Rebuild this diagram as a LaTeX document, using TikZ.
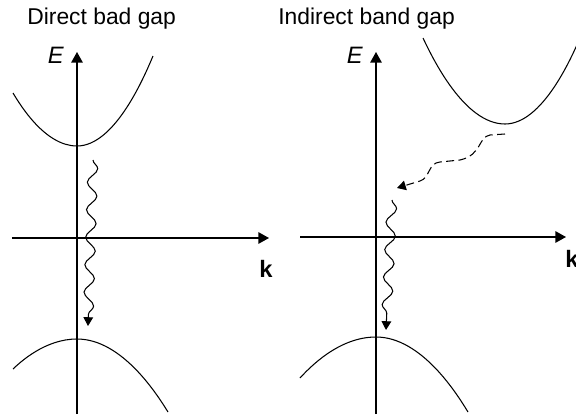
\documentclass[tikz,border=0pt]{standalone}
\usepackage{fontspec}
\setmainfont{Liberation Sans}
\usetikzlibrary{arrows.meta,decorations.pathmorphing}
\tikzset{
  axisline/.style={line width=0.75pt, -{Triangle[width=6.5pt,length=6pt]}},
  bandline/.style={line width=0.6pt},
  photon/.style={line width=0.6pt, -{Triangle[width=5.5pt,length=5pt]},
    decorate, decoration={snake, amplitude=0.1cm, segment length=0.55cm, post length=5pt}},
  phonon/.style={line width=0.6pt, dash pattern=on 4.5pt off 2.5pt,
    -{Triangle[width=5.5pt,length=5pt]}},
  paneltitle/.style={anchor=base west, inner sep=0pt, font=\fontsize{13}{15}\selectfont},
  elabel/.style={anchor=base east, inner sep=0pt, font=\fontsize{13.5}{15}\selectfont\itshape},
  klabel/.style={anchor=base west, inner sep=0pt, font=\fontsize{13.5}{15}\selectfont\bfseries},
}

\begin{document}
\begin{tikzpicture}[x=0.02cm, y=-0.02cm]
  \useasboundingbox (0,0) rectangle (576,416);
  \clip (0,0) rectangle (576,416);
  % direct gap
  \node[paneltitle] (dtitle) at (27,24.5) {Direct bad gap};
  \coordinate (dEbot) at (77,414);
  \coordinate (dEtop) at (77,52);
  \coordinate (dkl) at (12,238);
  \coordinate (dkr) at (269,238);
  \draw[axisline] (dEbot) -- (dEtop);
  \draw[axisline] (dkl) -- (dkr);
  \node[elabel] (dE) at (64,63) {E};
  \node[klabel] (dk) at (259,277) {k};
  \draw[bandline] (13,93) parabola bend (77,146) (153,56);
  \draw[bandline] (13,369) parabola bend (77,339) (168,412);
  \coordinate (dcb) at (93,160);
  \coordinate (dvb) at (88,326);
  \draw[photon] (dcb) -- (dvb);
  % indirect gap
  \node[paneltitle] (ititle) at (278,24.5) {Indirect band gap};
  \coordinate (iEbot) at (376,414);
  \coordinate (iEtop) at (376,52);
  \coordinate (ikl) at (300,237);
  \coordinate (ikr) at (566,237);
  \draw[axisline] (iEbot) -- (iEtop);
  \draw[axisline] (ikl) -- (ikr);
  \node[elabel] (iE) at (363,63) {E};
  \node[klabel] (ik) at (565,267) {k};
  \draw[bandline] (423,38) parabola bend (505,124) (580,38);
  \draw[bandline] (300,378) parabola bend (376,337) (468,412);
  \coordinate (icb) at (505,134);
  \coordinate (imid) at (397,188);
  \draw[phonon] (icb) -- (490,135) .. controls (478,137) and (482,155) .. (460,160)
    -- (440,162) .. controls (428,163) and (430,178) .. (420,181) -- (imid);
  \coordinate (istart) at (392,200);
  \coordinate (ivb) at (386,330);
  \draw[photon] (istart) -- (ivb);
\end{tikzpicture}
\end{document}
